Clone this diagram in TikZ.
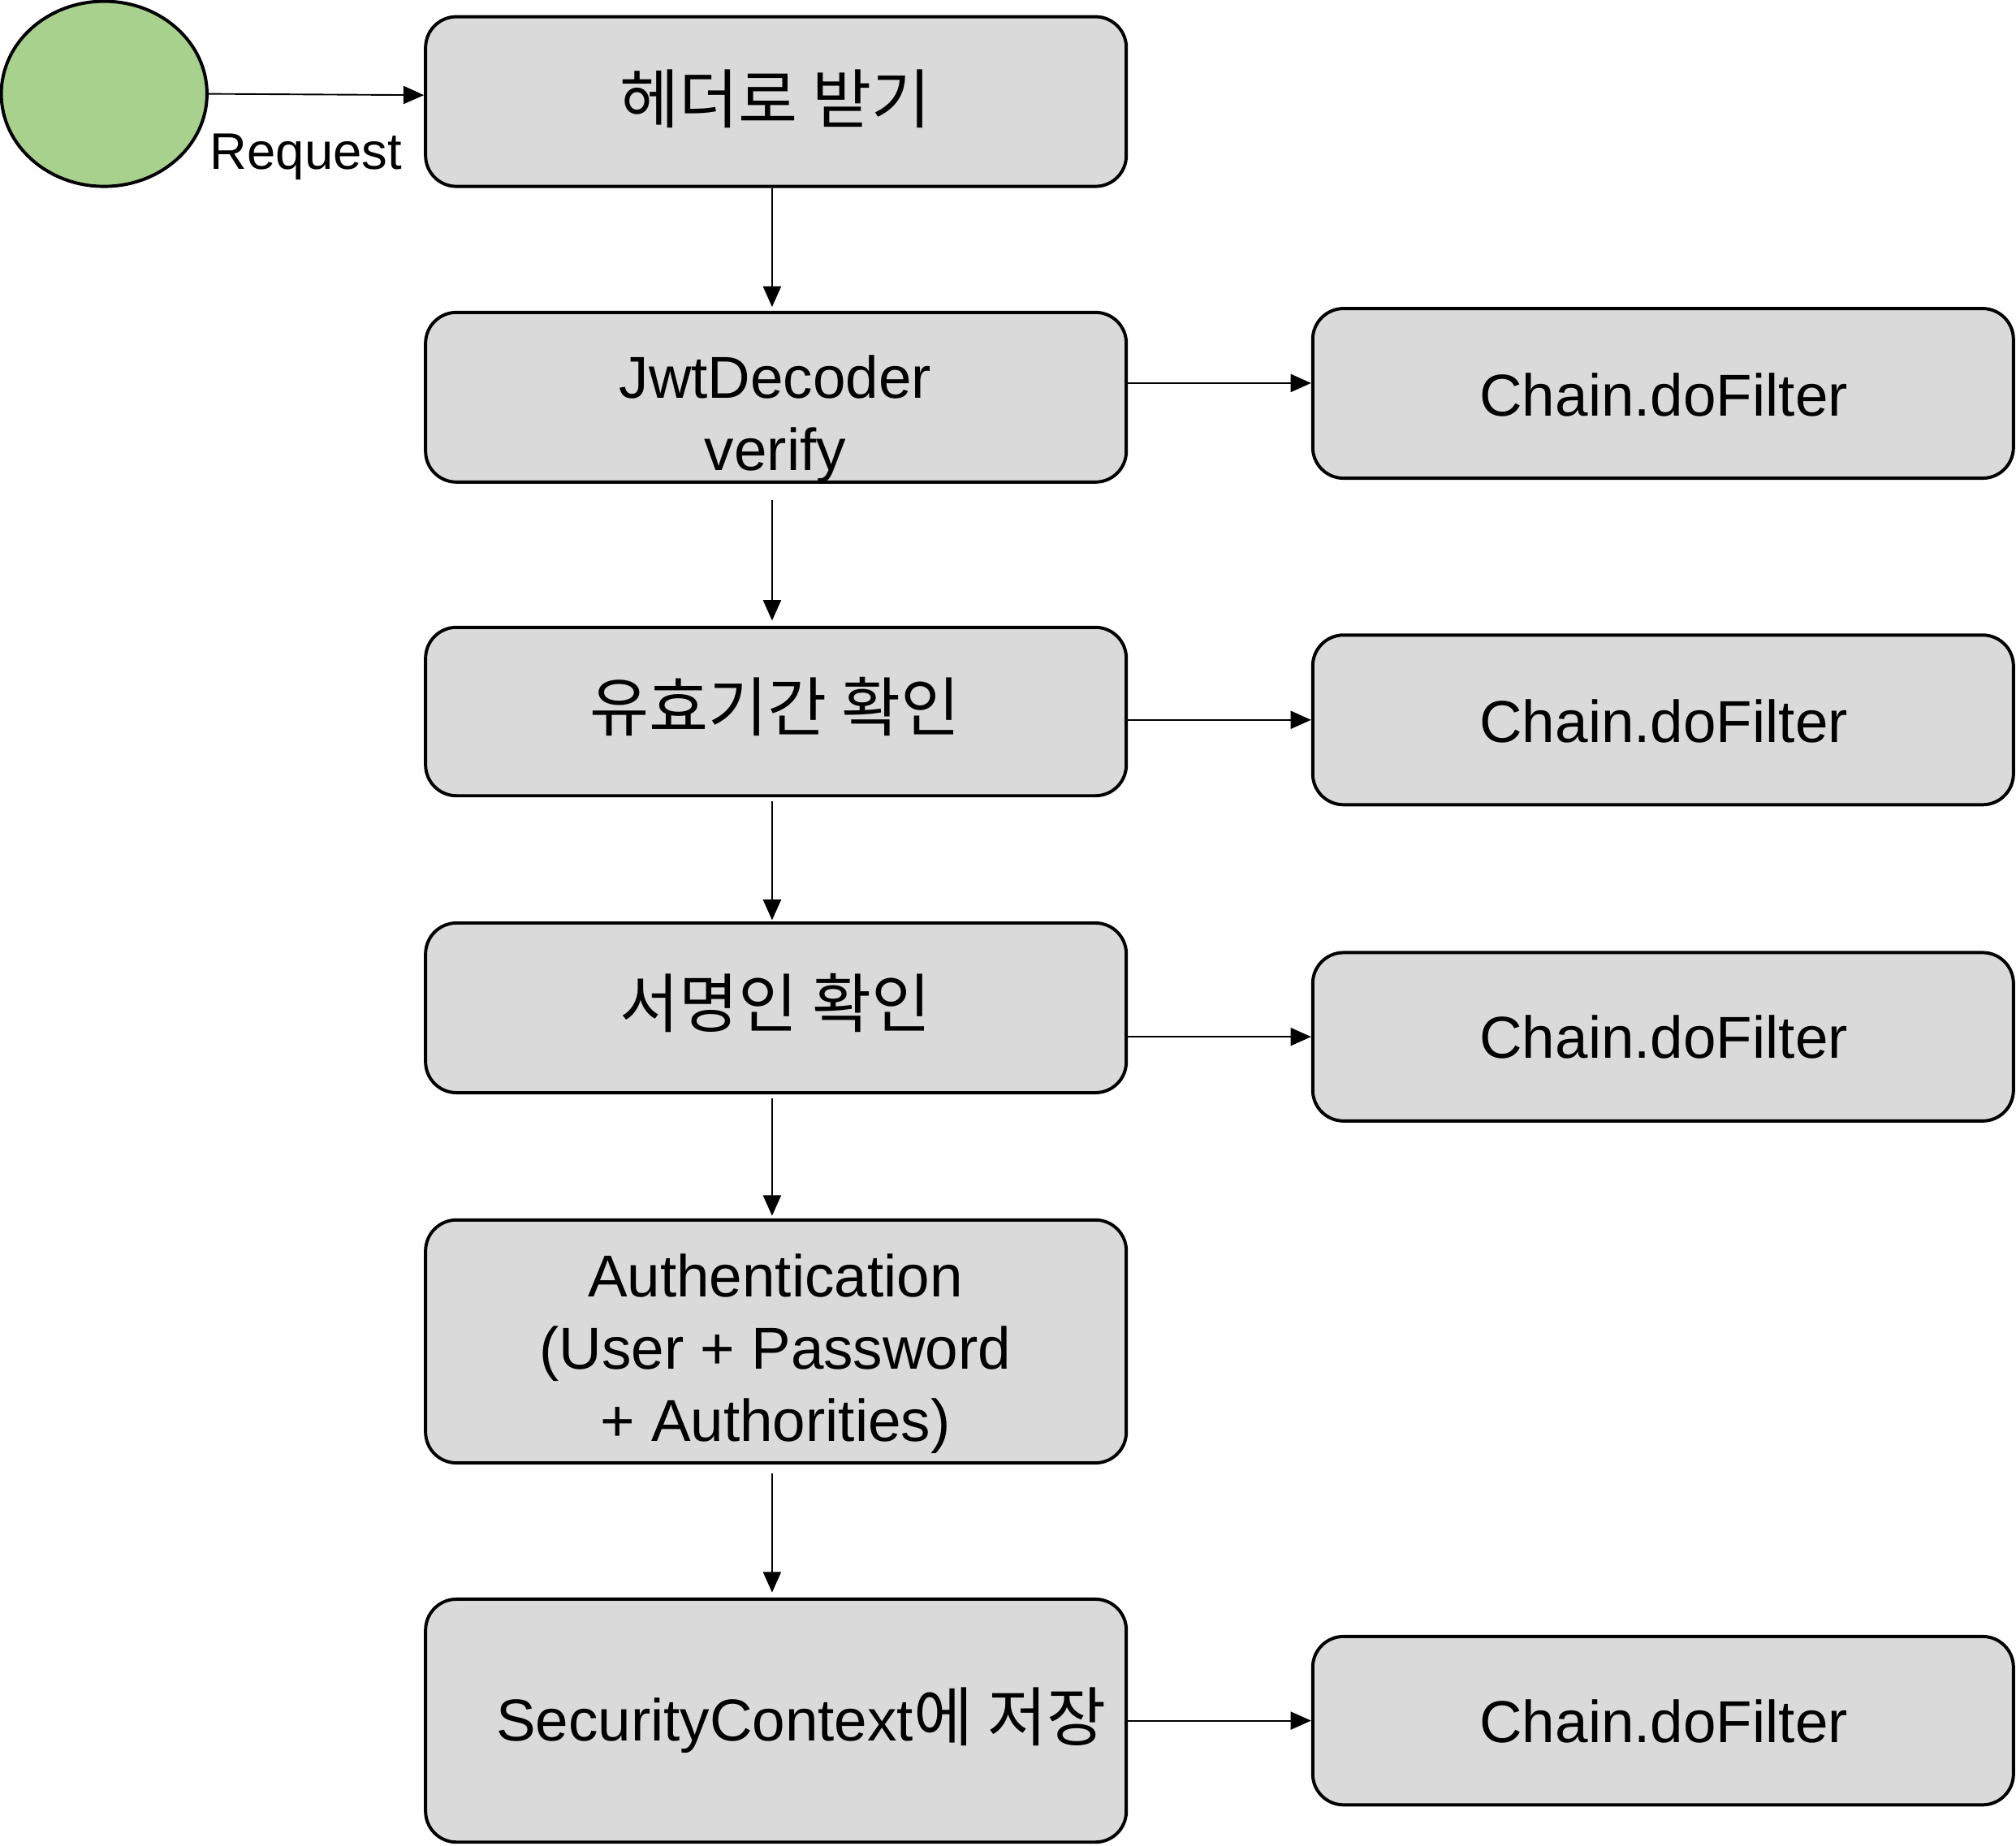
\documentclass[tikz,border=0pt]{standalone}
\usepackage{fontspec}
\setmainfont{Liberation Sans}
\newfontfamily\kr[Scale=1.09]{Noto Sans CJK KR}
\usetikzlibrary{arrows.meta,shapes.geometric}
\definecolor{boxgray}{HTML}{DADADA}
\definecolor{startgreen}{HTML}{A9D18E}
\tikzset{
  box/.style={draw=black, line width=2.5pt, fill=boxgray, rounded corners=24pt,
    minimum width=545pt, inner sep=0pt},
  txt/.style={font=\fontsize{46}{56}\selectfont, align=center, inner sep=0pt},
  reqtxt/.style={font=\fontsize{40}{48}\selectfont, inner sep=0pt},
  arr/.style={draw=black, line width=1.2pt, -{Triangle[length=16pt,width=14pt]}},
}
\begin{document}
\begin{tikzpicture}[x=1pt,y=-1pt]
\useasboundingbox (0,0) rectangle (1568,1435.4);
% start
\node[ellipse, draw=black, line width=2.5pt, fill=startgreen, minimum width=160pt, minimum height=144pt, inner sep=0pt] (start) at (81,73) {};
% main column
\node[box, minimum height=132pt] (b1) at (603.5,79) {};
\node[box, minimum height=132pt] (b2) at (603.5,309) {};
\node[box, minimum height=131pt] (b3) at (603.5,553.5) {};
\node[box, minimum height=132pt] (b4) at (603.5,784) {};
\node[box, minimum height=189pt] (b5) at (603.5,1043.5) {};
\node[box, minimum height=189pt] (b6) at (603.5,1338.5) {};
% right column
\node[box, minimum height=132pt] (r1) at (1293.5,306) {};
\node[box, minimum height=132pt] (r2) at (1293.5,560) {};
\node[box, minimum height=131pt] (r3) at (1293.5,806.5) {};
\node[box, minimum height=131pt] (r4) at (1293.5,1338.5) {};
% texts
\node[txt] (t1) at (603,77) {\kr 헤더로 받기};
\node[txt] (t2) at (603,326) {JwtDecoder\\verify};
\node[txt] (t3) at (603,550) {\kr 유효기간 확인};
\node[txt] (t4) at (603,780) {\kr 서명인 확인};
\node[txt] (t5) at (603,1053) {Authentication\\(User + Password\\+ Authorities)};
\node[txt] (t6) at (623,1338) {SecurityContext{\kr 에 저장}};
\node[txt] (tr1) at (1294,307) {Chain.doFilter};
\node[txt] (tr2) at (1294,561) {Chain.doFilter};
\node[txt] (tr3) at (1294,807) {Chain.doFilter};
\node[txt] (tr4) at (1294,1339) {Chain.doFilter};
\node[reqtxt] (req) at (238,122) {Request};
% connectors
\draw[arr] (start.east) -- ([yshift=5pt]b1.west);
\draw[arr] ([xshift=-3pt]b1.south) -- ([xshift=-3pt,yshift=3pt]b2.north);
\draw[arr] ([xshift=-3pt,yshift=-13pt]b2.south) -- ([xshift=-3pt,yshift=4pt]b3.north);
\draw[arr] ([xshift=-3pt,yshift=-3pt]b3.south) -- ([xshift=-3pt,yshift=1pt]b4.north);
\draw[arr] ([xshift=-3pt,yshift=-3pt]b4.south) -- ([xshift=-3pt,yshift=2pt]b5.north);
\draw[arr] ([xshift=-3pt,yshift=-7pt]b5.south) -- ([xshift=-3pt,yshift=4pt]b6.north);
\draw[arr] ([yshift=11pt]b2.east) -- ([yshift=8pt]r1.west);
\draw[arr] (b3.east |- r2.west) -- (r2.west);
\draw[arr] (b4.east |- r3.west) -- (r3.west);
\draw[arr] (b6.east) -- (r4.west);
\end{tikzpicture}
\end{document}
